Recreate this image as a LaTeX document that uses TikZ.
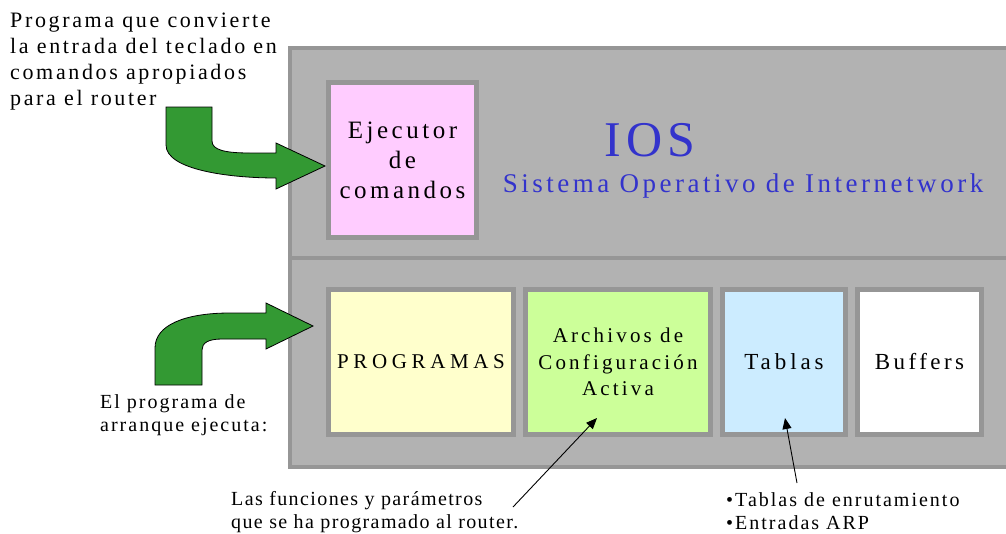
\documentclass[tikz,border=0pt]{standalone}
\usepackage{fontspec}
\setmainfont{Liberation Serif}
\usetikzlibrary{arrows.meta}
\definecolor{panelgray}{HTML}{B2B2B2}
\definecolor{bordergray}{HTML}{969696}
\definecolor{pinkfill}{HTML}{FFCCFF}
\definecolor{yellowfill}{HTML}{FFFFCC}
\definecolor{greenfill}{HTML}{CCFF99}
\definecolor{bluefill}{HTML}{CCECFF}
\definecolor{arrowgreen}{HTML}{339933}
\definecolor{iosblue}{HTML}{3333CC}
\newcommand\fnt[3]{\fontsize{#1}{#2}\selectfont\addfontfeatures{LetterSpace=#3}}
\begin{document}
\begin{tikzpicture}[x=1pt,y=-1pt,
  panel/.style={draw=bordergray,fill=panelgray,line width=4pt,inner sep=0pt},
  box/.style={draw=bordergray,line width=5pt,inner sep=0pt,align=center,text=black},
  lbl/.style={inner sep=0pt,align=left,anchor=west,font=\fnt{20}{23}{10}},
  bigarrow/.style={fill=arrowgreen,draw=black,line width=0.8pt,line join=miter},
  ann/.style={draw=black,line width=0.9pt,-{Triangle[length=11pt,width=9pt]}}]
\useasboundingbox (0,0) rectangle (1006,533);
\clip (0,0) rectangle (1006,533);
\fill[white] (0,0) rectangle (1006,533);

% panels
\node[panel,minimum width=726pt,minimum height=210pt] (upper) at (653,153) {};
\node[panel,minimum width=726pt,minimum height=209pt] (lower) at (653,362.5) {};

% upper content
\node[box,fill=pinkfill,minimum width=148pt,minimum height=155pt,font=\fnt{25}{30}{14}] (ejec) at (402.5,160) {Ejecutor\\de\\comandos};
\node[inner sep=0pt,text=iosblue,font=\fnt{50}{60}{10}] (ios) at (650,140) {IOS};
\node[inner sep=0pt,text=iosblue,font=\fnt{27}{32}{13}] (sis) at (743,186) {Sistema Operativo de Internetwork};

% lower content
\node[box,fill=yellowfill,minimum width=185pt,minimum height=145pt,font=\fnt{21}{26}{22}] (prog) at (421,362) {PROGRAMAS};
\node[box,fill=greenfill,minimum width=185pt,minimum height=145pt,font=\fnt{21}{26.5}{15}] (arch) at (618,362) {Archivos de\\Configuración\\Activa};
\node[box,fill=bluefill,minimum width=123pt,minimum height=145pt,font=\fnt{23}{27}{17}] (tabl) at (784,362) {Tablas};
\node[box,fill=white,minimum width=124pt,minimum height=145pt,font=\fnt{23}{27}{15}] (buff) at (919.5,362) {Buffers};

% side texts
\node[lbl,font=\fnt{22}{26}{12}] (t1) at (10,62) {Programa que convierte\\la entrada del teclado en\\comandos apropiados\\para el router};
\node[lbl] (t2) at (100,414.8) {El programa de\\arranque ejecuta:};
\node[lbl,font=\fnt{20}{23}{7}] (t3) at (231,512.5) {Las funciones y parámetros\\que se ha programado al router.};
\node[lbl] (t4) at (726,511) {•Tablas de enrutamiento\\•Entradas ARP};

% green arrows
\draw[bigarrow] (166,107) -- (212,107) -- (212,141)
  .. controls (212,150) and (225,153) .. (250,153) -- (276,153) -- (276,143)
  -- (325,166) -- (276,189) -- (276,178)
  .. controls (230,178) and (166,170) .. (166,145) -- cycle;
\draw[bigarrow] (155,385) -- (155,348)
  .. controls (155,325) and (185,313) .. (230,313) -- (266,313) -- (266,303)
  -- (313,326) -- (266,349) -- (266,339) -- (222,339)
  .. controls (208,339) and (202,343) .. (202,350) -- (202,385) -- cycle;

% annotation connectors
\coordinate (a1s) at (513,507);
\coordinate (a1e) at (597,418);
\coordinate (a2s) at (797,483);
\coordinate (a2e) at (785,418);
\draw[ann] (a1s) -- (a1e);
\draw[ann] (a2s) -- (a2e);
\end{tikzpicture}
\end{document}
